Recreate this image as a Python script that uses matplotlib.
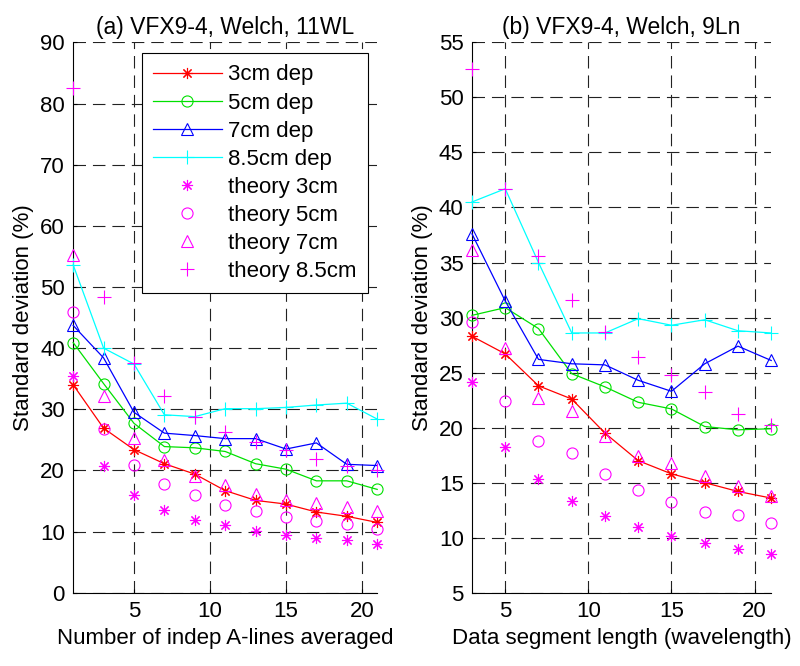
import numpy as np
import matplotlib
matplotlib.use('Agg')
import matplotlib.pyplot as plt

# dados
n_alines = [1, 3, 5, 7, 9, 11, 13, 15, 17, 19, 21]
a_dep3 = [34.0, 26.9, 23.4, 21.1, 19.4, 16.7, 15.1, 14.5, 13.2, 12.5, 11.5]
a_dep5 = [40.9, 34.2, 27.7, 23.9, 23.7, 23.1, 21.1, 20.2, 18.3, 18.3, 16.9]
a_dep7 = [43.7, 38.4, 29.5, 26.1, 25.7, 25.2, 25.2, 23.5, 24.5, 21.0, 20.8]
a_dep85 = [53.6, 40.0, 37.4, 29.1, 28.8, 30.1, 30.1, 30.3, 30.7, 31.0, 28.4]
a_teo3 = [35.4, 20.7, 16.0, 13.5, 11.9, 11.1, 10.1, 9.4, 8.9, 8.6, 8.0]
a_teo5 = [45.9, 26.8, 20.9, 17.8, 16.0, 14.3, 13.3, 12.4, 11.7, 11.2, 10.4]
a_teo7 = [55.3, 32.1, 25.3, 21.7, 19.1, 17.6, 16.1, 15.1, 14.6, 14.0, 13.3]
a_teo85 = [82.5, 48.3, 37.6, 32.1, 28.8, 26.3, 24.6, 23.4, 21.9, 20.8, 20.1]

seg_len = [3, 5, 7, 9, 11, 13, 15, 17, 19, 21]
b_dep3 = [28.3, 26.7, 23.8, 22.6, 19.5, 17.0, 15.8, 15.0, 14.2, 13.6]
b_dep5 = [30.2, 30.9, 29.0, 24.9, 23.7, 22.3, 21.7, 20.1, 19.8, 19.9]
b_dep7 = [37.6, 31.5, 26.2, 25.8, 25.7, 24.3, 23.3, 25.8, 27.4, 26.1]
b_dep85 = [40.5, 41.7, 35.0, 28.6, 28.6, 29.9, 29.3, 29.8, 28.8, 28.6]
b_teo3 = [24.1, 18.2, 15.3, 13.3, 12.0, 11.0, 10.2, 9.5, 9.0, 8.5]
b_teo5 = [29.6, 22.4, 18.8, 17.7, 15.8, 14.3, 13.2, 12.3, 12.1, 11.3]
b_teo7 = [36.1, 27.2, 22.7, 21.5, 19.2, 17.4, 16.8, 15.6, 14.7, 13.8]
b_teo85 = [52.6, 41.7, 35.6, 31.6, 28.7, 26.4, 24.8, 23.2, 21.2, 20.2]

legendas = ['3cm dep', '5cm dep', '7cm dep', '8.5cm dep',
            'theory 3cm', 'theory 5cm', 'theory 7cm', 'theory 8.5cm']

plt.rcParams['font.family'] = ['Liberation Sans', 'DejaVu Sans']
plt.rcParams['font.size'] = 16
plt.rcParams['lines.scale_dashes'] = False

asterisco = (8, 2, 0)
cores = ['#ff0000', '#00e000', '#0000ff', '#00ffff']
marcadores = [asterisco, 'o', '^', '+']
tamanhos = [8, 8, 9, 10]


def desenhar(ax, x, deps, teos, ylim, yticks, titulo, xlabel):
    for y, c, m, s in zip(deps, cores, marcadores, tamanhos):
        ax.plot(x, y, color=c, marker=m, markersize=s, markerfacecolor='none',
                markeredgewidth=0.8, linewidth=0.9, clip_on=False, zorder=3)
    for y, m, s in zip(teos, marcadores, tamanhos):
        ax.plot(x, y, linestyle='none', color='#ff00ff', marker=m, markersize=s,
                markerfacecolor='none', markeredgewidth=0.8, clip_on=False,
                zorder=3)
    ax.set_xlim(x[0], x[-1])
    ax.set_ylim(*ylim)
    ax.set_xticks([5, 10, 15, 20])
    ax.set_yticks(yticks)
    ax.grid(True, color='#222222', linestyle=(0, (9, 5)), linewidth=0.8)
    ax.spines['top'].set_visible(False)
    ax.spines['right'].set_visible(False)
    ax.tick_params(direction='in', length=3, pad=6)
    ax.set_title(titulo, fontsize=16.5, pad=6)
    ax.set_xlabel(xlabel)
    ax.set_ylabel('Standard deviation (%)')


fig = plt.figure(figsize=(8, 6.66), dpi=100)
ax1 = fig.add_axes([0.0915, 0.110, 0.38, 0.8264])
ax2 = fig.add_axes([0.59, 0.110, 0.374, 0.8264])

desenhar(ax1, n_alines, [a_dep3, a_dep5, a_dep7, a_dep85],
         [a_teo3, a_teo5, a_teo7, a_teo85], (0, 90), range(0, 91, 10),
         '(a) VFX9-4, Welch, 11WL', 'Number of indep A-lines averaged')
desenhar(ax2, seg_len, [b_dep3, b_dep5, b_dep7, b_dep85],
         [b_teo3, b_teo5, b_teo7, b_teo85], (5, 55), range(5, 56, 5),
         '(b) VFX9-4, Welch, 9Ln', 'Data segment length (wavelength)')

leg = ax1.legend(legendas, loc='upper right', bbox_to_anchor=(0.97, 0.98),
                 borderaxespad=0, fancybox=False, framealpha=1,
                 edgecolor='black', handlelength=3.1, handletextpad=0.3,
                 labelspacing=0.32, borderpad=0.5, fontsize=16)
leg.get_frame().set_linewidth(0.8)
leg.set_zorder(5)

fig.savefig('out.png', dpi=100)
